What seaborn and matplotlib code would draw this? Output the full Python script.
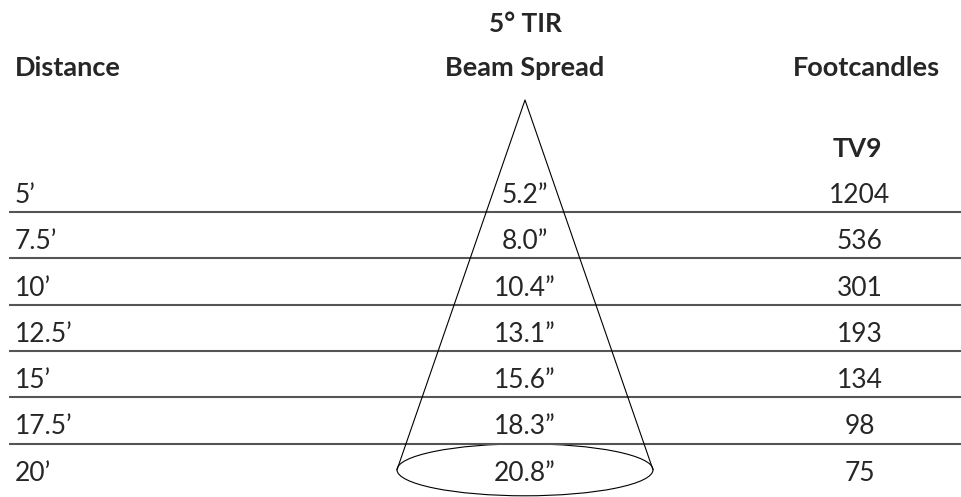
import matplotlib
matplotlib.use('Agg')
import matplotlib.pyplot as plt
import seaborn as sns
from matplotlib.patches import Ellipse

# table data
distances = ['5’', '7.5’', '10’', '12.5’', '15’', '17.5’', '20’']
beam_spread = ['5.2”', '8.0”', '10.4”', '13.1”', '15.6”', '18.3”', '20.8”']
footcandles = ['1204', '536', '301', '193', '134', '98', '75']

title = '5° TIR'
col_headers = ['Distance', 'Beam Spread', 'Footcandles']
sub_header = 'TV9'

sns.set_style('white')
plt.rcParams['font.family'] = ['Lato', 'DejaVu Sans']

W, H = 962, 497
fig = plt.figure(figsize=(W / 100, H / 100), dpi=100)
ax = fig.add_axes([0, 0, 1, 1])
ax.set_xlim(0, W)
ax.set_ylim(H, 0)
ax.axis('off')

x_left, x_mid, x_right = 15, 525, 860
row0, step = 203, 46.3

# headers
ax.text(x_mid, 32, title, ha='center', va='baseline', fontsize=19, fontweight='bold')
ax.text(x_left, 76, col_headers[0], ha='left', va='baseline', fontsize=19.5, fontweight='bold')
ax.text(x_mid, 76, col_headers[1], ha='center', va='baseline', fontsize=19.5, fontweight='bold')
ax.text(x_right + 6, 76, col_headers[2], ha='center', va='baseline', fontsize=19.5, fontweight='bold')
ax.text(x_right - 3, 157, sub_header, ha='center', va='baseline', fontsize=19, fontweight='bold')

# rows
n = len(distances)
for i in range(n):
    yb = row0 + i * step
    ax.text(x_left, yb, distances[i], ha='left', va='baseline', fontsize=19)
    ax.text(x_mid, yb, beam_spread[i], ha='center', va='baseline', fontsize=19)
    ax.text(x_right, yb, footcandles[i], ha='center', va='baseline', fontsize=19)
    if i < n - 1:
        ax.plot([9, W], [yb + 9, yb + 9], color='#555555', lw=1.5, solid_capstyle='butt')

# beam cone
apex_y = 100
base_y = row0 + (n - 1) * step - 11
half_w, half_h = 128, 26
ax.plot([x_mid - half_w, x_mid, x_mid + half_w], [base_y, apex_y, base_y], color='black', lw=0.8)
ax.add_patch(Ellipse((x_mid, base_y), 2 * half_w, 2 * half_h, fill=False, ec='black', lw=0.8))

fig.savefig('out.png', dpi=100)
plt.close()
